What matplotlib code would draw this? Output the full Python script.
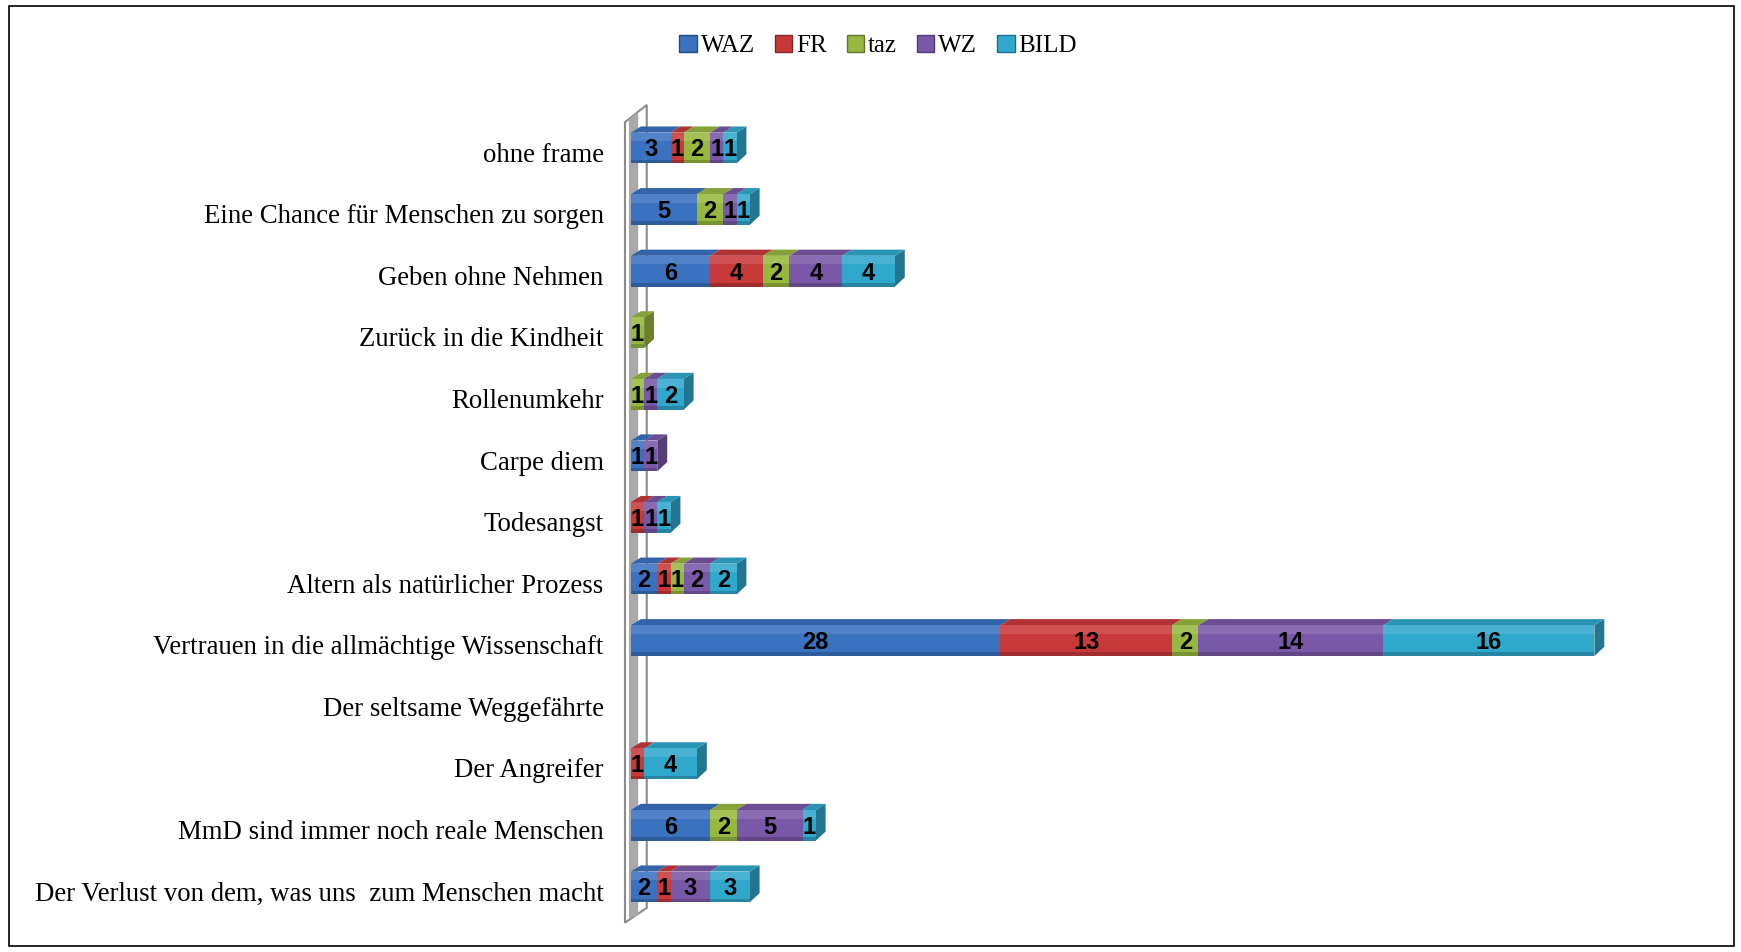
import numpy as np
import matplotlib.pyplot as plt
import matplotlib.transforms as mtransforms
from matplotlib.patches import Polygon, Rectangle
from matplotlib.colors import to_rgb

categories = [
    "ohne frame",
    "Eine Chance für Menschen zu sorgen",
    "Geben ohne Nehmen",
    "Zurück in die Kindheit",
    "Rollenumkehr",
    "Carpe diem",
    "Todesangst",
    "Altern als natürlicher Prozess",
    "Vertrauen in die allmächtige Wissenschaft",
    "Der seltsame Weggefährte",
    "Der Angreifer",
    "MmD sind immer noch reale Menschen",
    "Der Verlust von dem, was uns  zum Menschen macht",
]
series = ["WAZ", "FR", "taz", "WZ", "BILD"]
waz = [3, 5, 6, 0, 0, 1, 0, 2, 28, 0, 0, 6, 2]
fr = [1, 0, 4, 0, 0, 0, 1, 1, 13, 0, 1, 0, 1]
taz = [2, 2, 2, 1, 1, 0, 0, 1, 2, 0, 0, 2, 0]
wz = [1, 1, 4, 0, 1, 1, 1, 2, 14, 0, 0, 5, 3]
bild = [1, 1, 4, 0, 2, 0, 1, 2, 16, 0, 4, 1, 3]
colors = ["#3a72c0", "#c8393a", "#96b83e", "#7a58a8", "#30a8cc"]

serif = ["Liberation Serif", "DejaVu Serif"]
narrow = ["Liberation Sans Narrow", "Liberation Sans", "DejaVu Sans"]

def shade(c, f):
    r = np.array(to_rgb(c))
    if f >= 0:
        return tuple(r + (1 - r) * f)
    return tuple(r * (1 + f))

W, H = 1741, 952
fig = plt.figure(figsize=(W / 100, H / 100), dpi=100)
fig.patches.append(Rectangle((9 / W, 6 / H), 1725 / W, 940 / H, transform=fig.transFigure,
                             fill=False, edgecolor="black", lw=1.2))

ax = fig.add_axes([623 / W, 1 - 935 / H, (1700 - 623) / W, (935 - 100) / H])
ax.set_xlim(-0.6, 81)
ax.set_ylim(12.78, -0.78)

# side wall behind the category axis
wall = Polygon([(-0.45, -0.42), (1.2, -0.70), (1.2, 12.34), (-0.45, 12.58)],
               closed=True, facecolor="white", edgecolor="#8c8c8c", lw=1.5, zorder=1)
ax.add_patch(wall)
ax.add_patch(Polygon([(-0.15, -0.47), (0.55, -0.59), (0.55, 12.45), (-0.15, 12.53)],
                     closed=True, facecolor="#a9a9a9", edgecolor="none", zorder=1))

data = np.array([waz, fr, taz, wz, bild], dtype=float)
ypos = np.arange(len(categories))
h = 0.5
dx, dy = 0.75, 0.1
lefts = np.zeros(len(categories))

for k, name in enumerate(series):
    vals = data[k]
    c = colors[k]
    mask = vals > 0
    ax.barh(ypos[mask], vals[mask], left=lefts[mask], height=h, color=c, zorder=3,
            edgecolor="none", label=name)
    # highlight and shadow bands for a rounded look
    ax.barh(ypos[mask] - h * 0.36, vals[mask], left=lefts[mask], height=h * 0.28,
            color=shade(c, 0.12), zorder=3.1, edgecolor="none")
    ax.barh(ypos[mask] + h * 0.44, vals[mask], left=lefts[mask], height=h * 0.12,
            color=shade(c, -0.2), zorder=3.1, edgecolor="none")
    for y, v, l in zip(ypos[mask], vals[mask], lefts[mask]):
        top = y - h / 2
        ax.add_patch(Polygon([(l, top), (l + dx, top - dy), (l + v + dx, top - dy), (l + v, top)],
                             closed=True, facecolor=shade(c, -0.12), edgecolor="none", zorder=2.9))
        ax.text(l + v / 2, y + 0.03, f"{int(v)}", ha="center", va="center", fontsize=17,
                fontweight="bold", family=narrow, color="black", zorder=5)
    lefts = lefts + vals

# right-hand end faces
for i, y in enumerate(ypos):
    nz = np.nonzero(data[:, i])[0]
    if len(nz) == 0:
        continue
    c = colors[nz[-1]]
    r = lefts[i]
    top, bot = y - h / 2, y + h / 2
    ax.add_patch(Polygon([(r, top), (r + dx, top - dy), (r + dx, bot - dy - 0.05), (r, bot)],
                         closed=True, facecolor=shade(c, -0.3), edgecolor="none", zorder=2.8))

ax.set_yticks(ypos)
ax.set_yticklabels(categories, fontsize=19.3, family=serif)
ax.tick_params(axis="y", length=0, pad=14)
shift = mtransforms.ScaledTranslation(0, -3 / 72, fig.dpi_scale_trans)
for lbl in ax.get_yticklabels():
    lbl.set_transform(lbl.get_transform() + shift)
ax.set_xticks([])
for s in ax.spines.values():
    s.set_visible(False)

handles = [Rectangle((0, 0), 1, 1, facecolor=c, edgecolor=shade(c, -0.35), lw=1) for c in colors]
fig.legend(handles, series, loc="center", bbox_to_anchor=(878 / W, 1 - 46 / H), ncol=5,
           frameon=False, handlelength=0.7, handleheight=0.7, handletextpad=0.15,
           columnspacing=0.8, prop={"family": serif, "size": 18})

fig.savefig("out.png", dpi=100)
